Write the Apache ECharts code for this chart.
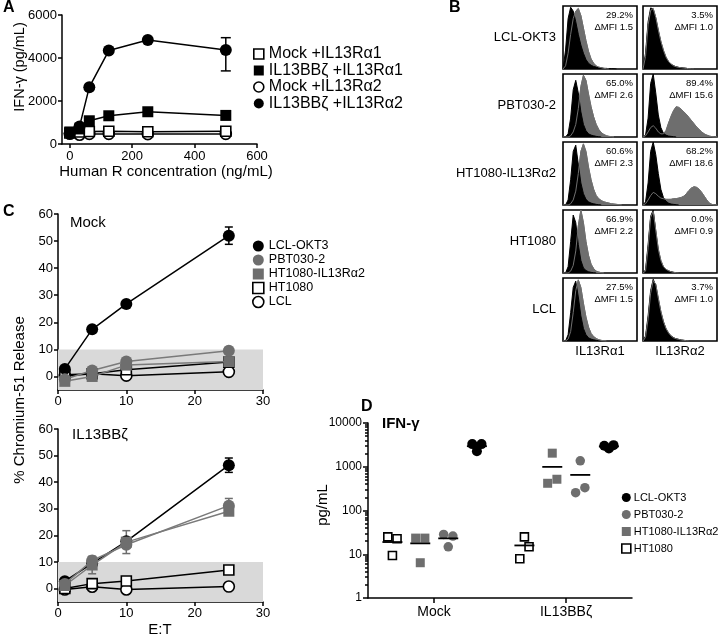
<!DOCTYPE html>
<html><head><meta charset="utf-8">
<script src="https://cdn.jsdelivr.net/npm/echarts@6/dist/echarts.min.js"></script>
<style>html,body{margin:0;padding:0;background:#fff}#c{width:723px;height:637px}</style>
</head><body><div id="c"></div>
<script>
// ---------- Panel A data ----------
const aConc = [0, 31.25, 62.5, 125, 250, 500];
const aMockRa1 = [510, 560, 580, 590, 570, 590];
const aBBRa1 = [560, 700, 1080, 1313, 1500, 1330];
const aMockRa2 = [480, 430, 470, 470, 460, 470];
const aBBRa2 = [500, 818, 2645, 4345, 4840, 4375];
const aBBRa2ErrHi = [0, 0, 0, 0, 0, 570];
const aBBRa2ErrLo = [0, 0, 0, 0, 0, 975];
const aXTicks = [0, 200, 400, 600];
const aNames = ['Mock +IL13Rα1', 'IL13BBζ +IL13Rα1', 'Mock +IL13Rα2', 'IL13BBζ +IL13Rα2'];

// ---------- Panel B data ----------
const bRows = ['LCL-OKT3', 'PBT030-2', 'HT1080-IL13Rα2', 'HT1080', 'LCL'];
const bCols = ['IL13Rα1', 'IL13Rα2'];
const bPct = ['29.2%', '3.5%', '65.0%', '89.4%', '60.6%', '68.2%', '66.9%', '0.0%', '27.5%', '3.7%'];
const bMfi = ['1.5', '1.0', '2.6', '15.6', '2.3', '18.6', '2.2', '0.9', '1.5', '1.0'];
const h1Ctrl = [0, 30, 80, 98, 92, 75, 55, 38, 25, 15, 9, 6, 4, 3, 2, 1.5, 1, 1, 0.5, 0.5, 0.3, 0];
const h1Stain = [0, 5, 25, 55, 80, 92, 96, 85, 65, 45, 28, 16, 9, 5, 3, 2, 1, 0.5, 0];
const h2Ctrl = [0, 25, 75, 97, 95, 80, 60, 42, 28, 18, 11, 7, 5, 3.5, 2.5, 2, 1.5, 1, 0.5, 0.3, 0];
const h2Stain = [0, 20, 70, 93, 96, 82, 62, 44, 30, 19, 12, 8, 5, 3.5, 2.5, 2, 1.5, 1, 0.5, 0.3, 0];
const h3Ctrl = [0, 0, 5, 30, 75, 90, 70, 40, 20, 10, 5, 3, 2, 1, 0.5, 0];
const h3Stain = [0, 0, 0, 2, 8, 20, 45, 80, 98, 90, 68, 48, 32, 20, 12, 7, 4, 2, 1, 0.5, 0];
const h4Ctrl = [0, 3, 30, 85, 100, 70, 35, 15, 6, 3, 1.5, 1, 0.5, 0];
const h4Stain = [0, 2, 8, 15, 18, 14, 8, 5, 5, 10, 22, 33, 42, 48, 47, 44, 40, 36, 31, 26, 21, 16, 12, 8, 5, 3, 1.5, 0.5, 0, 0];
const h5Ctrl = [0, 0, 8, 40, 85, 95, 65, 35, 18, 9, 5, 3, 2, 1, 0.5, 0];
const h5Stain = [0, 0, 0, 2, 8, 22, 50, 85, 97, 85, 60, 40, 25, 15, 10, 7, 5, 4, 3, 2, 1.5, 1, 0.5, 0];
const h6Ctrl = [0, 5, 35, 85, 100, 80, 50, 25, 12, 6, 3, 1.5, 1, 0.5, 0];
const h6Stain = [0, 2, 8, 15, 20, 18, 14, 11, 10, 9, 9, 9, 10, 10, 11, 12, 14, 18, 23, 27, 29, 28, 25, 20, 14, 8, 3, 1, 0, 0];
const h7Ctrl = [0, 0, 10, 50, 92, 80, 45, 20, 8, 4, 2, 1, 0.5, 0];
const h7Stain = [0, 0, 0, 3, 12, 35, 75, 100, 80, 50, 28, 14, 7, 3, 1.5, 0.5, 0];
const h8Ctrl = [0, 5, 45, 90, 100, 65, 35, 18, 9, 5, 3, 2, 1, 0.5, 0];
const h8Stain = [0, 3, 40, 88, 98, 68, 38, 20, 10, 6, 3.5, 2, 1, 0.5, 0];
const h9Ctrl = [0, 0, 10, 45, 85, 95, 70, 40, 20, 10, 5, 3, 2, 1, 0.5, 0];
const h9Stain = [0, 0, 3, 15, 45, 80, 97, 85, 60, 38, 22, 12, 7, 4, 2, 1, 0.5, 0];
const h10Ctrl = [0, 8, 40, 80, 98, 88, 65, 45, 30, 19, 12, 8, 5, 3.5, 2.5, 1.5, 1, 0.5, 0];
const h10Stain = [0, 6, 35, 76, 96, 90, 68, 47, 31, 20, 13, 8, 5, 3.5, 2.5, 1.5, 1, 0.5, 0];
const histCtrl = [h1Ctrl, h2Ctrl, h3Ctrl, h4Ctrl, h5Ctrl, h6Ctrl, h7Ctrl, h8Ctrl, h9Ctrl, h10Ctrl];
const histStain = [h1Stain, h2Stain, h3Stain, h4Stain, h5Stain, h6Stain, h7Stain, h8Stain, h9Stain, h10Stain];

// ---------- Panel C data ----------
const cET = [1, 5, 10, 25];
const cNames = ['LCL-OKT3', 'PBT030-2', 'HT1080-IL13Rα2', 'HT1080', 'LCL'];
const cYTicks = [0, 10, 20, 30, 40, 50, 60];
const cShadeTop = 10;
const cMockOKT3 = [2.8, 17.4, 26.8, 52.0];
const cMockOKT3Err = [0, 0, 0, 3.2];
const cMockPBT = [-1.0, 2.2, 5.5, 9.5];
const cMockHTRa2 = [-1.8, 0.0, 4.2, 5.5];
const cMockHT = [0.6, 1.0, 2.5, 5.3];
const cMockLCL = [0.2, 1.0, 0.3, 1.7];
const cBBOKT3 = [2.8, 9.5, 17.8, 46.4];
const cBBOKT3Err = [0, 0, 0, 2.7];
const cBBPBT = [1.8, 10.6, 16.5, 31.2];
const cBBPBTErr = [0, 0, 0, 2.7];
const cBBHTRa2 = [1.2, 8.9, 17.5, 29.1];
const cBBHTRa2Err = [0, 3.3, 4.3, 0];
const cBBHT = [0.1, 1.9, 2.9, 7.0];
const cBBLCL = [-0.3, 0.75, -0.3, 0.8];

// ---------- Panel D data ----------
const dGroups = ['Mock', 'IL13BBζ'];
const dNames = ['LCL-OKT3', 'PBT030-2', 'HT1080-IL13Rα2', 'HT1080'];
const dOKT3 = [[3290, 2270, 3290], [3013, 2614, 3119]];
const dPBT = [[28.4, 14.8, 26.0], [256, 1364, 333]];
const dHTRa2 = [[23.4, 6.4, 23.4], [419, 2044, 518]];
const dHT = [[25.0, 9.4, 22.6], [7.9, 25.0, 14.8]];

// ---------- helpers ----------
const FONT = '"Liberation Sans", Arial, Helvetica, sans-serif';
const GRAY = '#6e6e6e';
const BLACK = '#000';
const grids = [], xAxes = [], yAxes = [], series = [], legends = [], graphics = [];
const lineAx = { show: true, onZero: false, lineStyle: { color: BLACK, width: 1.5 } };
const tickAx = (len) => ({ show: true, length: len, lineStyle: { color: BLACK, width: 1.5 } });
const lab = (size, margin) => ({ color: BLACK, fontSize: size, fontFamily: FONT, margin: margin, formatter: v => String(v) });
const pairs = (xs, ys) => xs.map((x, i) => [x, ys[i]]);

function errSeries(xs, ys, hi, lo, xi, yi, color, cap) {
  const data = [];
  xs.forEach((x, i) => { if (hi[i] > 0) data.push([x, ys[i], hi[i], lo[i]]); });
  return {
    type: 'custom', xAxisIndex: xi, yAxisIndex: yi, data: data, z: 3, silent: true,
    encode: { x: 0, y: 1 },
    renderItem: function (params, api) {
      const x = api.value(0), y = api.value(1);
      const t = api.coord([x, y + api.value(2)]), b = api.coord([x, y - api.value(3)]);
      const st = { stroke: color, lineWidth: 1.5 };
      return { type: 'group', children: [
        { type: 'line', shape: { x1: t[0], y1: t[1], x2: b[0], y2: b[1] }, style: st },
        { type: 'line', shape: { x1: t[0] - cap, y1: t[1], x2: t[0] + cap, y2: t[1] }, style: st },
        { type: 'line', shape: { x1: b[0] - cap, y1: b[1], x2: b[0] + cap, y2: b[1] }, style: st }
      ] };
    }
  };
}
function lineSeries(name, data, xi, yi, sym, size, fill, stroke, lineColor, z) {
  return {
    type: 'line', name: name, xAxisIndex: xi, yAxisIndex: yi, data: data,
    symbol: sym, symbolSize: size, showSymbol: true, z: z,
    itemStyle: { color: fill, borderColor: stroke, borderWidth: fill === '#fff' ? 1.6 : 0, opacity: 1 },
    lineStyle: { color: lineColor, width: 1.5 }, emphasis: { disabled: true }
  };
}
function text(x, y, str, size, opts) {
  opts = opts || {};
  graphics.push({
    type: 'text', x: x, y: y, rotation: opts.rot || 0, silent: true, z: 100,
    style: { text: str, fill: BLACK, font: (opts.bold ? 'bold ' : '') + size + 'px ' + FONT,
      align: opts.align || 'left', verticalAlign: opts.va || 'middle' }
  });
}

// ---------- Panel A ----------
grids.push({ left: 62, top: 15, width: 195, height: 129 });
xAxes.push({ type: 'value', gridIndex: 0, min: -25, max: 600, axisLine: lineAx,
  axisTick: Object.assign(tickAx(4), { customValues: aXTicks }),
  axisLabel: Object.assign(lab(13, 6), { customValues: aXTicks }), splitLine: { show: false } });
yAxes.push({ type: 'value', gridIndex: 0, min: 0, max: 6000, interval: 2000, axisLine: lineAx,
  axisTick: tickAx(4), axisLabel: lab(13, 5), splitLine: { show: false } });
series.push(lineSeries(aNames[2], pairs(aConc, aMockRa2), 0, 0, 'circle', 11, '#fff', BLACK, BLACK, 2));
series.push(lineSeries(aNames[0], pairs(aConc, aMockRa1), 0, 0, 'rect', 10, '#fff', BLACK, BLACK, 3));
series.push(lineSeries(aNames[1], pairs(aConc, aBBRa1), 0, 0, 'rect', 11, BLACK, BLACK, BLACK, 4));
series.push(lineSeries(aNames[3], pairs(aConc, aBBRa2), 0, 0, 'circle', 12, BLACK, BLACK, BLACK, 5));
series.push(errSeries(aConc, aBBRa2, aBBRa2ErrHi, aBBRa2ErrLo, 0, 0, BLACK, 5));
legends.push({
  orient: 'vertical', left: 248, top: 41, itemWidth: 10, itemHeight: 10, itemGap: 0.5,
  selectedMode: false, textStyle: { fontSize: 16, fontFamily: FONT, color: BLACK, lineHeight: 13 },
  lineStyle: { opacity: 0 },
  data: [
    { name: aNames[0], icon: 'rect', itemStyle: { color: '#fff', borderColor: BLACK, borderWidth: 1.6 } },
    { name: aNames[1], icon: 'rect', itemStyle: { color: BLACK, borderWidth: 0 } },
    { name: aNames[2], icon: 'circle', itemStyle: { color: '#fff', borderColor: BLACK, borderWidth: 1.6 } },
    { name: aNames[3], icon: 'circle', itemStyle: { color: BLACK, borderWidth: 0 } }
  ]
});
text(3, 8, 'A', 16, { bold: true });
text(20, 67, 'IFN-γ (pg/mL)', 14.5, { rot: Math.PI / 2, align: 'center' });
text(166, 172, 'Human R concentration (ng/mL)', 15, { align: 'center' });

// ---------- Panel C ----------
function cPanel(gi, top, height, okt3, okt3Err, pbt, pbtErr, htra2, htra2Err, ht, lcl) {
  grids.push({ left: 58, top: top, width: 205, height: height });
  xAxes.push({ type: 'value', gridIndex: gi, min: 0, max: 30, interval: 10, axisLine: lineAx,
    axisTick: tickAx(4), axisLabel: lab(13, 5), splitLine: { show: false } });
  yAxes.push({ type: 'value', gridIndex: gi, min: -5, max: 60, axisLine: lineAx,
    axisTick: Object.assign(tickAx(4), { customValues: cYTicks }),
    axisLabel: Object.assign(lab(13, 5), { customValues: cYTicks }), splitLine: { show: false } });
  const shade = lineSeries('shade' + gi, [], gi, gi, 'none', 0, '#fff', BLACK, BLACK, 0);
  shade.markArea = { silent: true, itemStyle: { color: '#d9d9d9' },
    data: [[{ yAxis: -5 }, { yAxis: cShadeTop }]] };
  series.push(shade);
  series.push(lineSeries(cNames[4], pairs(cET, lcl), gi, gi, 'circle', 11, '#fff', BLACK, BLACK, 2));
  series.push(lineSeries(cNames[3], pairs(cET, ht), gi, gi, 'rect', 10, '#fff', BLACK, BLACK, 3));
  series.push(lineSeries(cNames[0], pairs(cET, okt3), gi, gi, 'circle', 12, BLACK, BLACK, BLACK, 4));
  series.push(lineSeries(cNames[1], pairs(cET, pbt), gi, gi, 'circle', 12, GRAY, GRAY, '#7a7a7a', 5));
  series.push(lineSeries(cNames[2], pairs(cET, htra2), gi, gi, 'rect', 11, GRAY, GRAY, '#7a7a7a', 6));
  series.push(errSeries(cET, okt3, okt3Err, okt3Err, gi, gi, BLACK, 4));
  if (pbtErr) series.push(errSeries(cET, pbt, pbtErr, pbtErr, gi, gi, GRAY, 4));
  if (htra2Err) series.push(errSeries(cET, htra2, htra2Err, htra2Err, gi, gi, GRAY, 4));
}
cPanel(1, 214, 176, cMockOKT3, cMockOKT3Err, cMockPBT, null, cMockHTRa2, null, cMockHT, cMockLCL);
cPanel(2, 429, 173, cBBOKT3, cBBOKT3Err, cBBPBT, cBBPBTErr, cBBHTRa2, cBBHTRa2Err, cBBHT, cBBLCL);
legends.push({
  orient: 'vertical', left: 247, top: 234, itemWidth: 11, itemHeight: 11, itemGap: 0,
  selectedMode: false, textStyle: { fontSize: 12.5, fontFamily: FONT, color: BLACK, lineHeight: 14 },
  lineStyle: { opacity: 0 },
  data: [
    { name: cNames[0], icon: 'circle', itemStyle: { color: BLACK, borderWidth: 0 } },
    { name: cNames[1], icon: 'circle', itemStyle: { color: GRAY, borderWidth: 0 } },
    { name: cNames[2], icon: 'rect', itemStyle: { color: GRAY, borderWidth: 0 } },
    { name: cNames[3], icon: 'rect', itemStyle: { color: '#fff', borderColor: BLACK, borderWidth: 1.6 } },
    { name: cNames[4], icon: 'circle', itemStyle: { color: '#fff', borderColor: BLACK, borderWidth: 1.6 } }
  ]
});
text(3, 212, 'C', 16, { bold: true });
text(70, 223, 'Mock', 15);
text(72, 435, 'IL13BBζ', 15);
text(20, 400, '% Chromium-51 Release', 15, { rot: Math.PI / 2, align: 'center' });
text(160, 630, 'E:T', 15, { align: 'center' });

// ---------- Panel D ----------
grids.push({ left: 368, top: 423, width: 264, height: 175 });
const dCenters = dGroups.map((g, i) => i + 0.5);
xAxes.push({ type: 'value', gridIndex: 3, min: 0, max: 2, axisLine: lineAx,
  axisTick: Object.assign(tickAx(5), { customValues: dCenters }),
  axisLabel: Object.assign(lab(14, 7), { customValues: dCenters,
    formatter: v => dGroups[Math.round(v - 0.5)] }), splitLine: { show: false } });
yAxes.push({ type: 'log', logBase: 10, gridIndex: 3, min: 1, max: 10000, axisLine: lineAx,
  axisTick: tickAx(5), axisLabel: lab(12, 6),
  splitLine: { show: false }, minorTick: { show: false } });
const dMinor = [];
for (let d = 0; d < 4; d++) for (let k = 2; k <= 9; k++) dMinor.push(d + Math.log10(k));
yAxes.push({ type: 'value', gridIndex: 3, min: 0, max: 4, position: 'left',
  axisLine: { show: false }, axisTick: Object.assign(tickAx(3), { customValues: dMinor }),
  axisLabel: { show: false }, splitLine: { show: false } });
const dOffset = { 'HT1080': -0.315, 'HT1080-IL13Rα2': -0.104, 'PBT030-2': 0.108, 'LCL-OKT3': 0.325 };
const dJitter = [-0.035, 0, 0.035];
function dSeries(name, vals, sym, size, fill, stroke) {
  const pts = [], means = [];
  vals.forEach((grp, gi) => {
    const cx = dCenters[gi] + dOffset[name];
    grp.forEach((v, j) => pts.push([cx + dJitter[j], v]));
    means.push([cx, grp.reduce((s, v) => s + v, 0) / grp.length]);
  });
  series.push({ type: 'scatter', name: name, xAxisIndex: 3, yAxisIndex: 3, data: pts,
    symbol: sym, symbolSize: size, z: 4,
    itemStyle: { color: fill, borderColor: stroke, borderWidth: fill === '#fff' ? 1.6 : 0, opacity: 1 } });
  series.push({ type: 'scatter', name: name + ' mean', xAxisIndex: 3, yAxisIndex: 3, data: means,
    symbol: 'rect', symbolSize: [20, 1.8], z: 5, itemStyle: { color: BLACK, opacity: 1 } });
}
dSeries('HT1080', dHT, 'rect', 8, '#fff', BLACK);
dSeries('HT1080-IL13Rα2', dHTRa2, 'rect', 9, GRAY, GRAY);
dSeries('PBT030-2', dPBT, 'circle', 9.5, GRAY, GRAY);
dSeries('LCL-OKT3', dOKT3, 'circle', 10, BLACK, BLACK);
legends.push({
  orient: 'vertical', left: 616, top: 484, itemWidth: 9, itemHeight: 9, itemGap: 0,
  selectedMode: false, textStyle: { fontSize: 11, fontFamily: FONT, color: BLACK, lineHeight: 17, padding: [0, 0, 0, -2] },
  data: [
    { name: dNames[0], icon: 'circle', itemStyle: { color: BLACK, borderWidth: 0 } },
    { name: dNames[1], icon: 'circle', itemStyle: { color: GRAY, borderWidth: 0 } },
    { name: dNames[2], icon: 'rect', itemStyle: { color: GRAY, borderWidth: 0 } },
    { name: dNames[3], icon: 'rect', itemStyle: { color: '#fff', borderColor: BLACK, borderWidth: 1.6 } }
  ]
});
text(361, 407, 'D', 16, { bold: true });
text(382, 424, 'IFN-γ', 15, { bold: true });
text(323, 505, 'pg/mL', 15, { rot: Math.PI / 2, align: 'center' });

// ---------- Panel B (histograms) ----------
const bins = Array.from({ length: 30 }, (_, i) => i);
const colLeft = [563, 643], rowTop = [6, 74, 142, 210, 278], boxW = 74, boxH = 63;
for (let r = 0; r < 5; r++) {
  for (let c = 0; c < 2; c++) {
    const k = r * 2 + c;
    const gi = grids.length;
    grids.push({ left: colLeft[c], top: rowTop[r], width: boxW, height: boxH, show: true,
      borderColor: BLACK, borderWidth: 1.6, backgroundColor: '#fff', z: 1 });
    const xi = xAxes.length, yi = yAxes.length;
    xAxes.push({ type: 'category', gridIndex: gi, data: bins, boundaryGap: false, show: false });
    yAxes.push({ type: 'value', gridIndex: gi, min: 0, max: 100, show: false, splitLine: { show: false } });
    series.push({ type: 'line', xAxisIndex: xi, yAxisIndex: yi, data: histStain[k], symbol: 'none', z: 2,
      lineStyle: { color: GRAY, width: 1 }, areaStyle: { color: GRAY, opacity: 1 }, silent: true });
    series.push({ type: 'line', xAxisIndex: xi, yAxisIndex: yi, data: histCtrl[k], symbol: 'none', z: 3,
      lineStyle: { color: BLACK, width: 1 }, areaStyle: { color: BLACK, opacity: 1 }, silent: true });
    series.push({ type: 'line', xAxisIndex: xi, yAxisIndex: yi, data: histStain[k], symbol: 'none', z: 4,
      lineStyle: { color: '#707070', width: 1 }, silent: true });
    text(colLeft[c] + boxW - 4, rowTop[r] + 9, bPct[k], 9.5, { align: 'right' });
    text(colLeft[c] + boxW - 4, rowTop[r] + 21, 'ΔMFI ' + bMfi[k], 9.5, { align: 'right' });
  }
  text(556, rowTop[r] + 31, bRows[r], 13, { align: 'right' });
}
text(colLeft[0] + boxW / 2, 351, bCols[0], 13, { align: 'center' });
text(colLeft[1] + boxW / 2, 351, bCols[1], 13, { align: 'center' });
text(449, 8, 'B', 16, { bold: true });

const chart = echarts.init(document.getElementById('c'), null, { renderer: 'canvas' });
chart.setOption({
  animation: false, backgroundColor: '#fff',
  grid: grids, xAxis: xAxes, yAxis: yAxes, series: series, legend: legends, graphic: graphics
});
</script>
</body></html>
